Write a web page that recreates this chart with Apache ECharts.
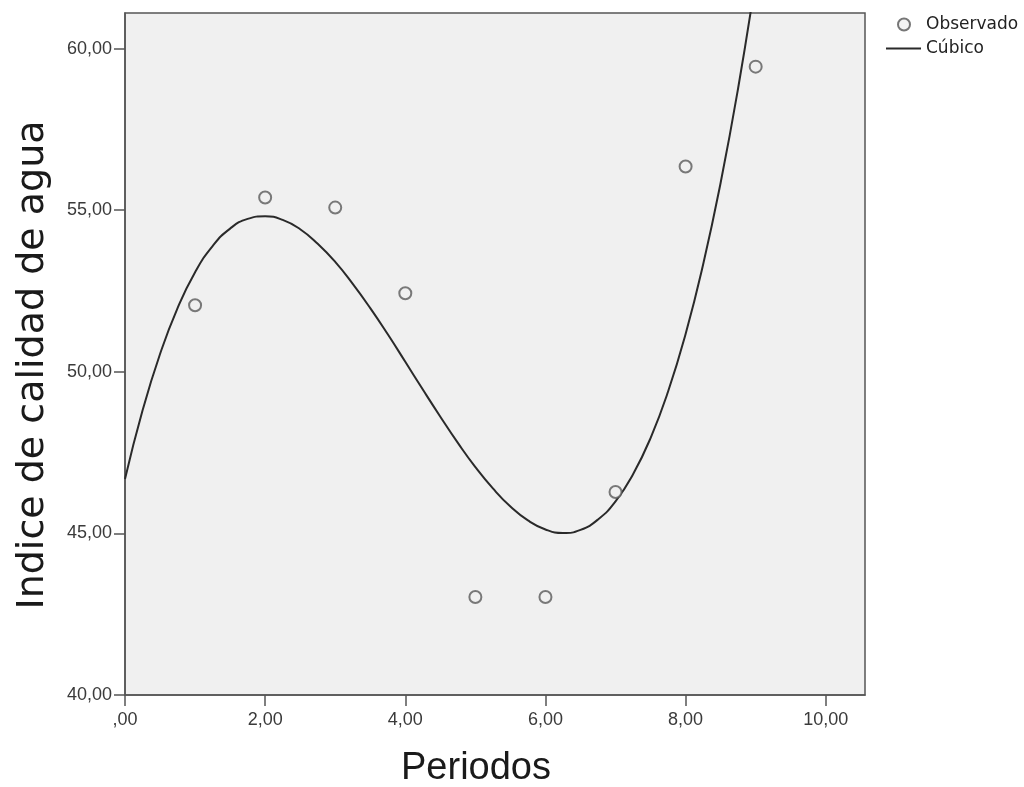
<!DOCTYPE html>
<html>
<head>
<meta charset="utf-8">
<script src="https://cdn.jsdelivr.net/npm/echarts@6/dist/echarts.min.js"></script>
<style>
  html, body { margin: 0; padding: 0; background: #ffffff; }
  #chart { width: 1024px; height: 787px; }
</style>
</head>
<body>
<div id="chart"></div>
<script>
// Observed water-quality index per period
const periods = [1, 2, 3, 4, 5, 6, 7, 8, 9];
const observed = [52.06, 55.39, 55.08, 52.43, 43.03, 43.03, 46.28, 56.35, 59.44];

// Cubic fit curve, sampled every quarter period
const curveX = [0, 0.25, 0.5, 0.75, 1, 1.25, 1.5, 1.75, 2, 2.25, 2.5, 2.75, 3, 3.25, 3.5, 3.75,
                4, 4.25, 4.5, 4.75, 5, 5.25, 5.5, 5.75, 6, 6.25, 6.5, 6.75, 7, 7.25, 7.5, 7.75,
                8, 8.25, 8.5, 8.75, 9];
const curveY = [46.68, 48.80, 50.55, 51.97, 53.08, 53.89, 54.43, 54.73, 54.81, 54.70, 54.41, 53.96,
                53.40, 52.72, 51.97, 51.16, 50.31, 49.45, 48.61, 47.80, 47.05, 46.39, 45.83, 45.40,
                45.12, 45.01, 45.11, 45.43, 45.99, 46.83, 47.95, 49.39, 51.17, 53.32, 55.85, 58.78,
                62.15];

const xTicks = [0, 2, 4, 6, 8, 10];
const yTicks = [40, 45, 50, 55, 60];

const fmt = v => (v === 0 ? ',00' : v.toFixed(2).replace('.', ','));
const FONT = '"Liberation Sans", Arial, sans-serif';
const WIDE = '"DejaVu Sans", sans-serif';

const chart = echarts.init(document.getElementById('chart'), null, { renderer: 'canvas' });

chart.setOption({
  animation: false,
  backgroundColor: '#ffffff',
  textStyle: { fontFamily: FONT },
  grid: {
    left: 125, top: 13, right: 159, bottom: 92,
    outerBoundsMode: 'none',
    containLabel: false,
    show: true,
    backgroundColor: '#f0f0f0',
    borderColor: '#555555',
    borderWidth: 1.5
  },
  legend: [
    {
      left: 897, top: 16, padding: 0,
      itemWidth: 12, itemHeight: 12,
      textStyle: { fontFamily: WIDE, fontSize: 17, color: '#222222', padding: [0, 0, 0, 11] },
      data: [{ name: 'Observado', icon: 'circle',
               itemStyle: { color: '#f0f0f0', borderColor: '#555555', borderWidth: 2 } }]
    },
    {
      left: 886, top: 40, padding: 0,
      itemWidth: 35, itemHeight: 2,
      textStyle: { fontFamily: WIDE, fontSize: 17, color: '#222222' },
      data: [{ name: 'Cúbico', icon: 'rect', itemStyle: { color: '#2a2a2a' } }]
    }
  ],
  xAxis: {
    type: 'value',
    min: 0, max: 10.56,
    name: 'Periodos',
    nameLocation: 'middle',
    nameGap: 55,
    nameTextStyle: { fontFamily: FONT, fontSize: 38, color: '#1a1a1a', padding: [0, 38, 0, 0] },
    splitLine: { show: false },
    axisLine: { show: true, onZero: false, lineStyle: { color: '#555555', width: 1.5 } },
    axisTick: { show: true, length: 11, customValues: xTicks, lineStyle: { color: '#555555', width: 1.5 } },
    axisLabel: { customValues: xTicks, formatter: fmt, margin: 16,
                 fontFamily: FONT, fontSize: 18, color: '#3a3a3a' }
  },
  yAxis: {
    type: 'value',
    min: 40, max: 61.1,
    name: 'Indice de calidad de agua',
    nameLocation: 'middle',
    nameRotate: 90,
    nameGap: 73,
    nameTextStyle: { fontFamily: WIDE, fontSize: 38, color: '#1a1a1a', padding: [0, 22, 0, 0] },
    splitLine: { show: false },
    axisLine: { show: true, onZero: false, lineStyle: { color: '#555555', width: 1.5 } },
    axisTick: { show: true, length: 11, customValues: yTicks, lineStyle: { color: '#555555', width: 1.5 } },
    axisLabel: { customValues: yTicks, formatter: fmt, margin: 13,
                 fontFamily: FONT, fontSize: 18, color: '#3a3a3a' }
  },
  series: [
    {
      name: 'Cúbico',
      type: 'line',
      data: curveX.map((x, i) => [x, curveY[i]]),
      smooth: true,
      symbol: 'none',
      clip: true,
      lineStyle: { color: '#2a2a2a', width: 2 },
      itemStyle: { color: '#2a2a2a' },
      z: 2
    },
    {
      name: 'Observado',
      type: 'scatter',
      data: periods.map((x, i) => [x, observed[i]]),
      symbol: 'circle',
      symbolSize: 12,
      itemStyle: { color: '#f0f0f0', borderColor: '#5a5a5a', borderWidth: 2 },
      z: 3
    }
  ]
});
</script>
</body>
</html>
